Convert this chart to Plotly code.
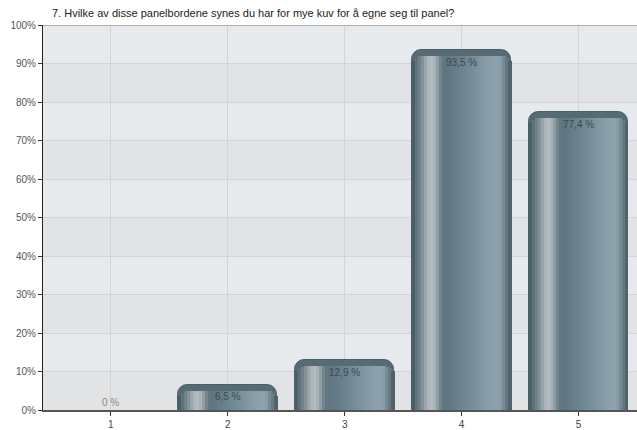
import math
import plotly.graph_objects as go

categories = [1, 2, 3, 4, 5]
values = [0.0, 6.5, 12.9, 93.5, 77.4]
labels = ["0 %", "6,5 %", "12,9 %", "93,5 %", "77,4 %"]
title_text = "7. Hvilke av disse panelbordene synes du har for mye kuv for å egne seg til panel?"
y_ticks = list(range(0, 101, 10))
y_ticktext = [f"{t}%" for t in y_ticks]

FONT = "Liberation Sans, Arial, sans-serif"
BW = 0.85
PX_PER_UNIT = 388 / 100.0      # vertical px per percent
BAR_PX = 99.0                  # bar width in px
RADIUS_PX = 10.0

# horizontal colour profile of the bar (fraction of width, colour)
profile = [
    (0.00, "#43555d"), (0.04, "#5b6f78"), (0.10, "#7e8e95"), (0.16, "#aab4b9"),
    (0.21, "#b5bec2"), (0.25, "#97a4aa"), (0.30, "#667b85"), (0.33, "#5d7480"),
    (0.55, "#708893"), (0.80, "#8ba0aa"), (0.88, "#8ea3ad"), (0.94, "#6d838d"),
    (1.00, "#465860"),
]


def hex2rgb(h):
    h = h.lstrip("#")
    return [int(h[i:i + 2], 16) for i in (0, 2, 4)]


def color_at(f):
    for (f0, c0), (f1, c1) in zip(profile[:-1], profile[1:]):
        if f0 <= f <= f1:
            t = 0 if f1 == f0 else (f - f0) / (f1 - f0)
            a, b = hex2rgb(c0), hex2rgb(c1)
            return "rgb({},{},{})".format(*[round(a[i] + (b[i] - a[i]) * t) for i in range(3)])
    return profile[-1][1]


fig = go.Figure()

# base bar (rounded top, outline, top cap colour)
fig.add_trace(go.Bar(
    x=categories, y=values, width=BW,
    marker=dict(color="#566b74",
                line=dict(color="#4b5f69", width=[0 if v == 0 else 1 for v in values]),
                cornerradius=RADIUS_PX),
    hoverinfo="skip", showlegend=False,
))

# gradient body made of thin overlaid strips
N = 33
step = BW / N
cap_units = 6.0 / PX_PER_UNIT
for i in range(N):
    f = (i + 0.5) / N
    d_px = min(f, 1 - f) * BAR_PX          # distance to nearest side in px
    drop_px = 0.0
    if d_px < RADIUS_PX:
        drop_px = RADIUS_PX - math.sqrt(RADIUS_PX ** 2 - (RADIUS_PX - d_px) ** 2)
    drop = cap_units + drop_px / PX_PER_UNIT
    hs = [max(v - drop, 0) if v > 0 else 0 for v in values]
    fig.add_trace(go.Bar(
        x=categories, y=hs, width=step * 1.08, offset=-BW / 2 + i * step,
        marker=dict(color=color_at(f), line=dict(width=0)),
        hoverinfo="skip", showlegend=False,
    ))

annotations = []
for c, v, lab in zip(categories, values, labels):
    annotations.append(dict(
        x=c, y=v, xref="x", yref="y", text=lab, showarrow=False,
        yanchor="middle", yshift=8 if v == 0 else -12,
        font=dict(family=FONT, size=10, color="#8a8a8a" if v == 0 else "#3b4a52"),
    ))

shapes = []
for lo in range(10, 100, 20):
    shapes.append(dict(type="rect", xref="paper", yref="y", x0=0, x1=1, y0=lo, y1=lo + 10,
                       fillcolor="#e7eaed", line=dict(width=0), layer="below"))
shapes.append(dict(type="line", xref="paper", yref="y", x0=0, x1=1, y0=100, y1=100,
                   line=dict(color="#9a9a9a", width=1.5), layer="above"))

fig.update_layout(
    width=637, height=430,
    margin=dict(l=43, r=0, t=25, b=17),
    paper_bgcolor="white", plot_bgcolor="#e2e3e5",
    barmode="overlay", bargap=0,
    font=dict(family=FONT, size=10, color="#444"),
    title=dict(text=title_text, x=52 / 637, xanchor="left", xref="container",
               y=1 - 13 / 430, yanchor="middle", yref="container",
               font=dict(family=FONT, size=11, color="#222")),
    shapes=shapes,
    annotations=annotations,
    xaxis=dict(range=[0.42, 5.5], tickvals=categories, ticktext=[str(c) for c in categories],
               showgrid=True, gridcolor="#d3d4d6", gridwidth=1,
               showline=True, linecolor="#555", linewidth=1.5,
               ticks="outside", ticklen=4, tickcolor="#333",
               tickfont=dict(family=FONT, size=10, color="#444"), zeroline=False, fixedrange=True),
    yaxis=dict(range=[0, 100], tickvals=y_ticks, ticktext=y_ticktext,
               showgrid=True, gridcolor="#d3d4d6", gridwidth=1,
               showline=True, linecolor="#222", linewidth=1,
               ticks="outside", ticklen=4, tickcolor="#333",
               tickfont=dict(family=FONT, size=10, color="#555"), zeroline=False, fixedrange=True),
)

fig.write_html("out.html")
